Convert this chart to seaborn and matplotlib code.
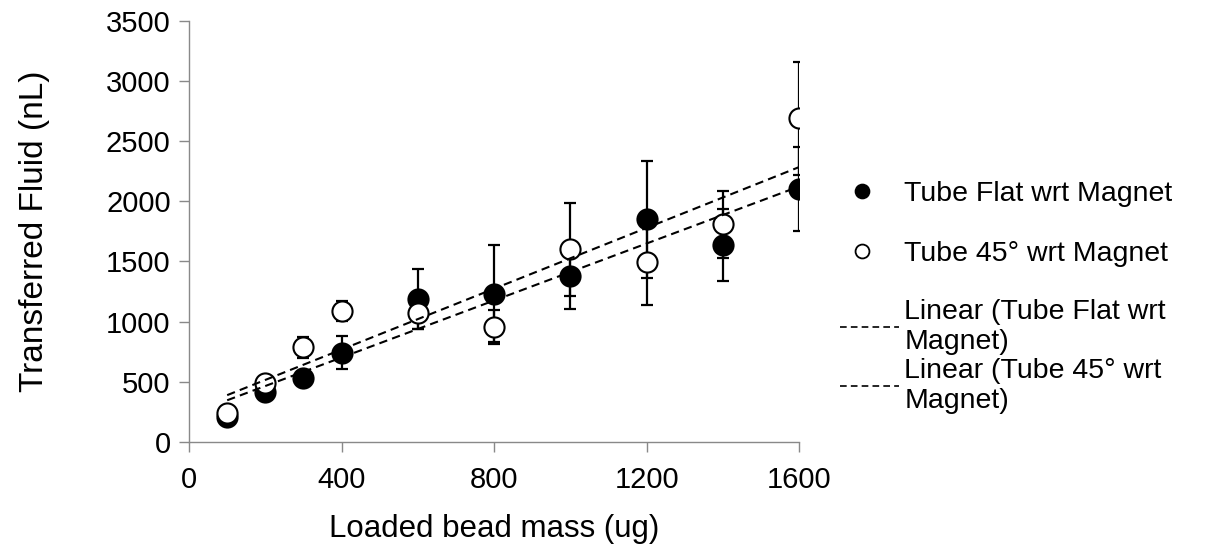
import numpy as np
import pandas as pd
import matplotlib
matplotlib.use('Agg')
import matplotlib.pyplot as plt
from matplotlib.lines import Line2D
import seaborn as sns

# data
bead_mass = [100, 200, 300, 400, 600, 800, 1000, 1200, 1400, 1600]
flat_fluid = [205, 410, 530, 740, 1190, 1230, 1375, 1850, 1640, 2105]
flat_err = [30, 40, 40, 137, 250, 404, 270, 485, 300, 350]
tilt_fluid = [240, 485, 785, 1090, 1075, 955, 1600, 1495, 1810, 2690]
tilt_err = [20, 40, 85, 85, 140, 140, 385, 357, 280, 470]

flat_label = 'Tube Flat wrt Magnet'
tilt_label = 'Tube 45° wrt Magnet'
flat_fit_label = 'Linear (Tube Flat wrt\nMagnet)'
tilt_fit_label = 'Linear (Tube 45° wrt\nMagnet)'

sns.set_style('white')
plt.rcParams['font.family'] = ['Liberation Sans', 'DejaVu Sans']
plt.rcParams['text.color'] = 'black'
plt.rcParams['axes.labelcolor'] = 'black'
TICK_FS = 21
LEG_FS = 20.5
GREY = '#898989'
DASH = (0, (4, 2.5))

df = pd.DataFrame({'mass': bead_mass, 'flat': flat_fluid, 'tilt': tilt_fluid})

fig = plt.figure(figsize=(12.08, 5.52), dpi=100)
ax = fig.add_axes([0.1565, 0.1998, 0.505, 0.762])

# error bars first (behind the markers)
ax.errorbar(bead_mass, flat_fluid, yerr=flat_err, fmt='none', ecolor='black',
            elinewidth=1.6, capsize=4.5, capthick=1.6, zorder=1)
ax.errorbar(bead_mass, tilt_fluid, yerr=tilt_err, fmt='none', ecolor='black',
            elinewidth=1.6, capsize=4.5, capthick=1.6, zorder=1)

sns.scatterplot(data=df, x='mass', y='flat', ax=ax, color='black', s=210,
                edgecolor='black', linewidth=1.5, zorder=2)
sns.scatterplot(data=df, x='mass', y='tilt', ax=ax, color='white', s=210,
                edgecolor='black', linewidth=1.5, zorder=3)

# linear trendlines
xs = np.array([bead_mass[0], bead_mass[-1]])
for ys in (flat_fluid, tilt_fluid):
    k, b = np.polyfit(bead_mass, ys, 1)
    ax.plot(xs, k * xs + b, color='black', linestyle=DASH, lw=1.5, zorder=4)

ax.set_xlim(0, 1600)
ax.set_ylim(0, 3500)
ax.set_xticks(range(0, 1601, 400))
ax.set_yticks(range(0, 3501, 500))
ax.set_xlabel('Loaded bead mass (ug)', fontsize=22.5, labelpad=15)
ax.set_ylabel('Transferred Fluid (nL)', fontsize=24, labelpad=40)
ax.tick_params(axis='both', labelsize=TICK_FS, direction='out', length=7.2,
               width=1.0, color=GREY, labelcolor='black', bottom=True, left=True)
ax.tick_params(axis='x', pad=10)
ax.tick_params(axis='y', pad=6)
for side in ('top', 'right'):
    ax.spines[side].set_visible(False)
for side in ('left', 'bottom'):
    ax.spines[side].set_color(GREY)
    ax.spines[side].set_linewidth(1.0)

# legend, split in two so the spacing looks like the original
mk_handles = [
    Line2D([], [], marker='o', linestyle='none', markersize=10,
           markerfacecolor='black', markeredgecolor='black', markeredgewidth=1.3),
    Line2D([], [], marker='o', linestyle='none', markersize=10,
           markerfacecolor='white', markeredgecolor='black', markeredgewidth=1.3),
]
fig.legend(mk_handles, [flat_label, tilt_label], loc='upper left',
           bbox_to_anchor=(0.695, 0.673), frameon=False, fontsize=LEG_FS,
           handlelength=1.6, handletextpad=0.68, labelspacing=1.2,
           borderpad=0, borderaxespad=0)
ln_handles = [Line2D([], [], color='black', linestyle=DASH, lw=1.2)
              for _ in range(2)]
leg2 = fig.legend(ln_handles, [flat_fit_label, tilt_fit_label], loc='upper left',
                  bbox_to_anchor=(0.695, 0.458), frameon=False, fontsize=LEG_FS,
                  handlelength=2.1, handletextpad=0.18, labelspacing=0.1,
                  borderpad=0, borderaxespad=0)
for t in leg2.get_texts():
    t.set_linespacing(1.2)

fig.savefig('out.png', dpi=100)
